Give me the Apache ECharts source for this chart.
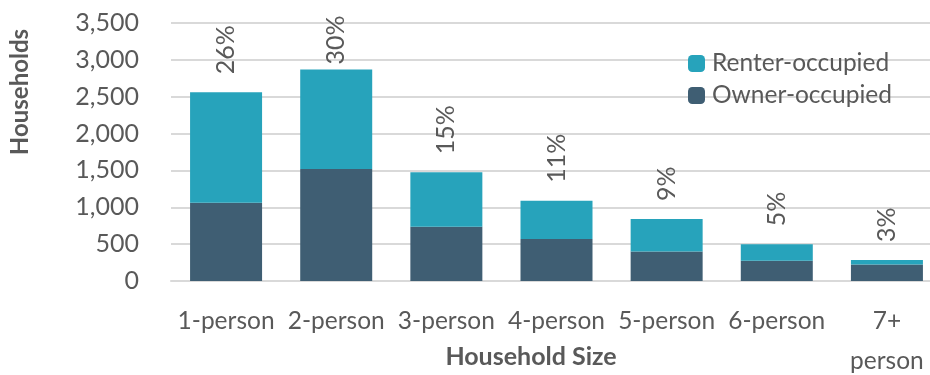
<!DOCTYPE html>
<html>
<head>
<meta charset="utf-8">
<script src="https://cdn.jsdelivr.net/npm/echarts@6/dist/echarts.min.js"></script>
<style>
  html, body { margin: 0; padding: 0; background: #fff; }
  #chart { width: 930px; height: 375px; }
</style>
</head>
<body>
<div id="chart"></div>
<script>
const categories = ['1-person', '2-person', '3-person', '4-person', '5-person', '6-person', '7+\nperson'];
const ownerValues = [1060, 1520, 735, 570, 400, 275, 225];
const renterValues = [1500, 1350, 740, 520, 440, 225, 60];
const shareLabels = ['26%', '30%', '15%', '11%', '9%', '5%', '3%'];
const yTicks = [0, 500, 1000, 1500, 2000, 2500, 3000, 3500];

const FONT = 'Lato';
const TEXT = '#595959';

const chart = echarts.init(document.getElementById('chart'));

const option = {
  backgroundColor: '#fff',
  animation: false,
  textStyle: { fontFamily: FONT },
  grid: { left: 171, right: -12, top: 23, bottom: 94, outerBoundsMode: 'none' },
  legend: {
    data: ['Renter-occupied', 'Owner-occupied'],
    orient: 'vertical',
    left: 683,
    top: 46,
    itemWidth: 17,
    itemHeight: 17,
    itemGap: 7,
    textStyle: { fontSize: 24.5, color: TEXT, fontFamily: FONT, padding: [0, 0, 0, 2] }
  },
  xAxis: {
    type: 'category',
    data: categories,
    axisLine: { lineStyle: { color: '#d9d9d9', width: 2 } },
    axisTick: { show: false },
    axisLabel: {
      interval: 0,
      color: TEXT,
      fontSize: 24.5,
      fontFamily: FONT,
      lineHeight: 40,
      margin: 20
    }
  },
  yAxis: {
    type: 'value',
    min: 0,
    max: yTicks[yTicks.length - 1],
    interval: 500,
    axisLine: { show: false },
    axisTick: { show: false },
    splitLine: { lineStyle: { color: '#d9d9d9', width: 2 } },
    axisLabel: {
      color: TEXT,
      fontSize: 25,
      fontFamily: FONT,
      margin: 32,
      formatter: v => v.toLocaleString('en-US')
    }
  },
  graphic: [
    {
      type: 'text',
      x: 20,
      y: 92,
      rotation: Math.PI / 2,
      style: {
        text: 'Households',
        font: 'bold 24px ' + FONT,
        fill: TEXT,
        align: 'center',
        verticalAlign: 'middle'
      }
    },
    {
      type: 'text',
      x: 531,
      y: 357,
      style: {
        text: 'Household Size',
        font: 'bold 25px ' + FONT,
        fill: TEXT,
        align: 'center',
        verticalAlign: 'middle'
      }
    }
  ],
  series: [
    {
      name: 'Owner-occupied',
      type: 'bar',
      stack: 'total',
      barWidth: 72,
      itemStyle: { color: '#3f5e73' },
      data: ownerValues
    },
    {
      name: 'Renter-occupied',
      type: 'bar',
      stack: 'total',
      barWidth: 72,
      itemStyle: { color: '#27a3bb' },
      data: renterValues.map((v, i) => ({
        value: v,
        label: i === 1 ? { distance: 5 } : undefined
      })),
      label: {
        show: true,
        position: 'top',
        rotate: 90,
        align: 'left',
        verticalAlign: 'middle',
        distance: 18,
        color: TEXT,
        fontSize: 25,
        fontFamily: FONT,
        formatter: p => shareLabels[p.dataIndex]
      }
    }
  ]
};

chart.setOption(option);
window.addEventListener('resize', () => chart.resize());
</script>
</body>
</html>
